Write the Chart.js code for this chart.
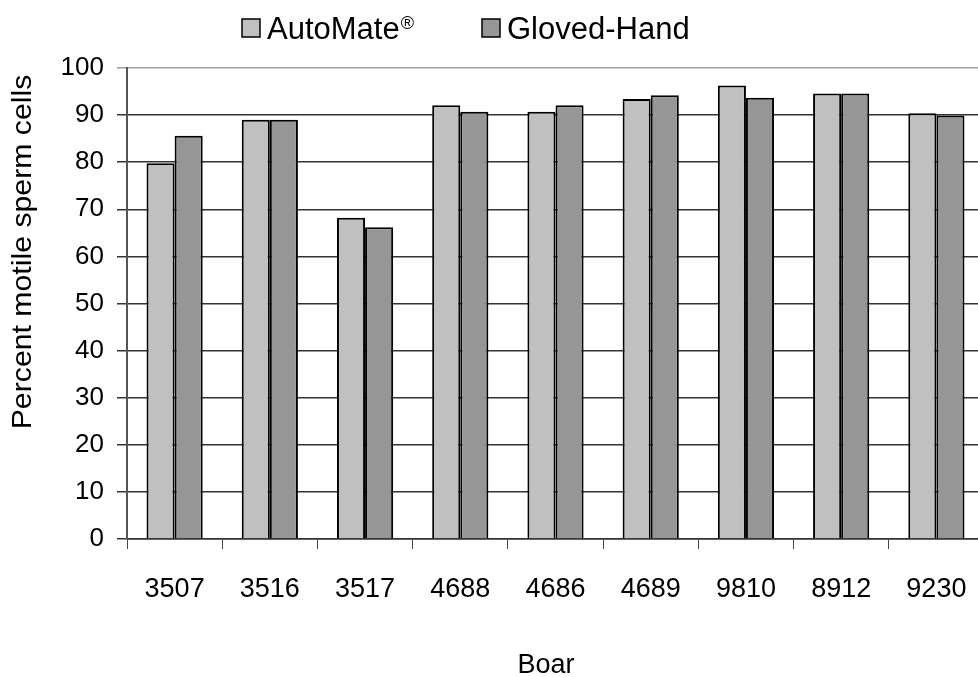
<!DOCTYPE html>
<html>
<head>
<meta charset="utf-8">
<script src="https://cdn.jsdelivr.net/npm/chart.js@4/dist/chart.umd.min.js"></script>
<style>
  html, body { margin: 0; padding: 0; background: #fff; overflow: hidden; }
  #wrap { width: 992px; height: 677px; }
</style>
</head>
<body>
<div id="wrap"><canvas id="c" width="992" height="677"></canvas></div>
<script>
// Boar IDs along the x axis
const boars = ['3507', '3516', '3517', '4688', '4686', '4689', '9810', '8912', '9230'];
// Percent motile sperm cells per collection method
const automate = [79.8, 89.0, 68.2, 92.1, 90.7, 93.4, 96.3, 94.6, 90.4];
const glovedHand = [85.6, 89.0, 66.2, 90.7, 92.1, 94.2, 93.7, 94.6, 89.9];
// Y tick range
const yMin = 0, yMax = 100, yStep = 10;
// Text
const seriesNames = ['AutoMate', 'Gloved-Hand'];
const xTitle = 'Boar';
const yTitle = 'Percent motile sperm cells';

const FONT = '"Liberation Sans", Arial, sans-serif';
const FILLS = ['#c0c0c0', '#969696'];

// Legend and axis titles drawn by hand: the trademark sign is a superscript
// and the titles sit where the layout wants them rather than centred on the axes.
const annotationsPlugin = {
  id: 'legendAndTitles',
  afterDraw(chart) {
    const ctx = chart.ctx;
    const items = [
      { x: 242, text: seriesNames[0], sup: '\u00AE', color: FILLS[0] },
      { x: 482, text: seriesNames[1], sup: '', color: FILLS[1] }
    ];
    ctx.save();
    ctx.textBaseline = 'alphabetic';
    ctx.textAlign = 'left';
    items.forEach(it => {
      ctx.fillStyle = it.color;
      ctx.fillRect(it.x, 19, 18, 18);
      ctx.strokeStyle = '#000';
      ctx.lineWidth = 1.5;
      ctx.strokeRect(it.x, 19, 18, 18);
      ctx.fillStyle = '#000';
      ctx.font = '31px ' + FONT;
      const tx = it.x + 25;
      ctx.fillText(it.text, tx, 39);
      if (it.sup) {
        const w = ctx.measureText(it.text).width;
        ctx.font = '18px ' + FONT;
        ctx.fillText(it.sup, tx + w + 1, 29);
      }
    });

    // x axis title
    ctx.fillStyle = '#000';
    ctx.font = '27px ' + FONT;
    ctx.textAlign = 'center';
    ctx.fillText(xTitle, 546, 673);

    // y axis title, rotated
    ctx.translate(23, 252);
    ctx.rotate(-Math.PI / 2);
    ctx.scale(1.08, 1);
    ctx.font = '28px ' + FONT;
    ctx.textBaseline = 'middle';
    ctx.fillText(yTitle, 0, 0);
    ctx.restore();
  }
};

new Chart(document.getElementById('c'), {
  type: 'bar',
  data: {
    labels: boars,
    datasets: [
      { label: seriesNames[0] + '\u00AE', data: automate, backgroundColor: FILLS[0], borderColor: '#000', borderWidth: 2 },
      { label: seriesNames[1], data: glovedHand, backgroundColor: FILLS[1], borderColor: '#000', borderWidth: 2 }
    ]
  },
  options: {
    responsive: false,
    animation: false,
    devicePixelRatio: 1,
    layout: { padding: { top: 68, right: 8, left: 0, bottom: 0 } },
    datasets: { bar: { barPercentage: 1, categoryPercentage: 0.59 } },
    plugins: {
      legend: { display: false },
      tooltip: { enabled: false }
    },
    scales: {
      x: {
        grid: {
          offset: true,
          drawOnChartArea: false,
          drawTicks: true,
          tickLength: 10,
          color: '#444',
          lineWidth: 1
        },
        border: { display: true, color: '#333', width: 1.5 },
        ticks: { color: '#000', font: { family: FONT, size: 27 }, padding: 24, maxRotation: 0 },
        afterFit(scale) { scale.height = 138; }
      },
      y: {
        min: yMin,
        max: yMax,
        ticks: { stepSize: yStep, color: '#000', font: { family: FONT, size: 26 }, padding: 13 },
        grid: {
          color: ctx => (ctx.tick && ctx.tick.value === yMax ? '#a0a0a0' : '#333'),
          lineWidth: 1.5,
          tickLength: 10,
          drawTicks: true
        },
        border: { display: true, color: '#555', width: 2 },
        afterFit(scale) { scale.width = 127; }
      }
    }
  },
  plugins: [annotationsPlugin]
});
</script>
</body>
</html>
